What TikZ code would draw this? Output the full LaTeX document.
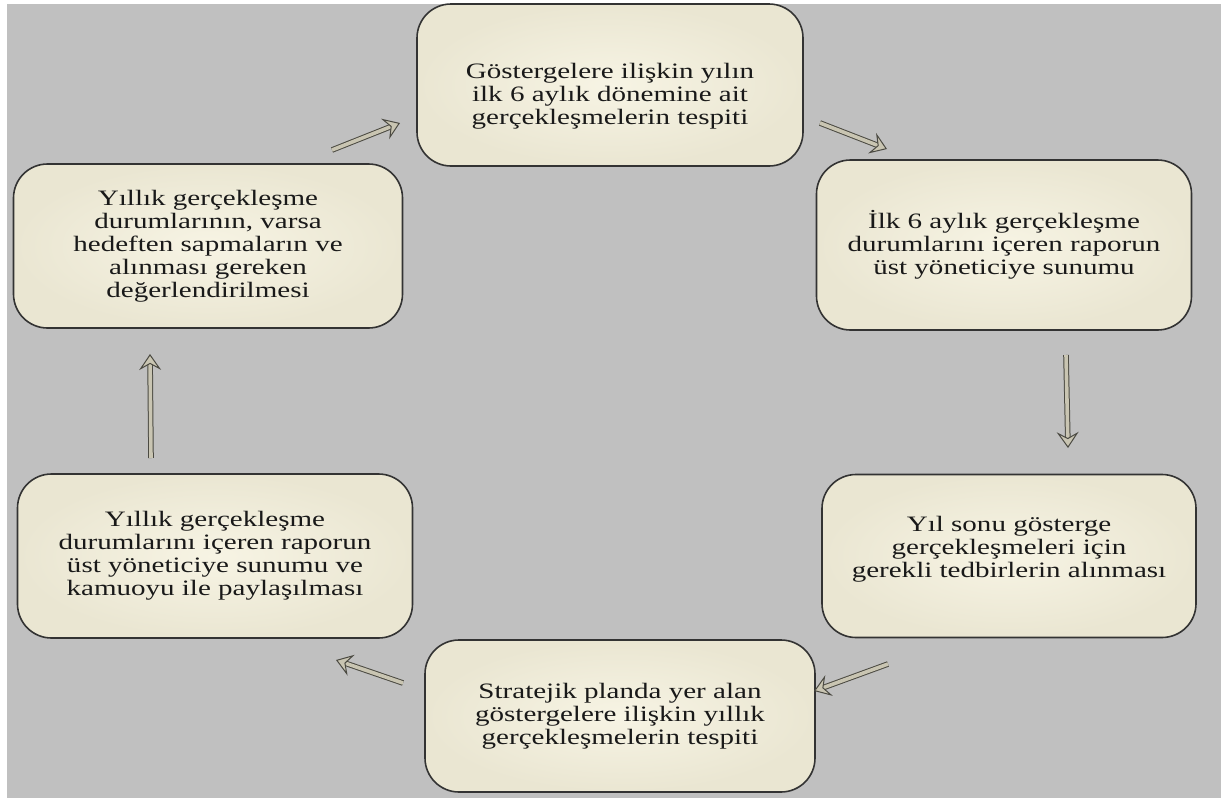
\documentclass[tikz,border=0pt]{standalone}
\usepackage{fontspec}
\setmainfont{Liberation Serif}[FakeStretch=1.32]
\usetikzlibrary{arrows.meta}

\definecolor{panelgray}{HTML}{C0C0C0}
\definecolor{boxfill}{HTML}{F7F4E4}
\definecolor{boxedge}{HTML}{EAE6D2}
\definecolor{arrowfill}{HTML}{C9C5B2}
\definecolor{arrowline}{HTML}{4B4A42}

\tikzset{
    stagetext/.style={align=center, text=black!90, font=\fontsize{22}{23}\selectfont},
    stage/.style={draw=black!80, line width=1.6pt, rounded corners=34pt,
        inner color=boxfill, outer color=boxedge, inner sep=0pt, stagetext},
    flow/.style={draw=arrowline, line width=1pt, double=arrowfill,
        double distance=3.6pt,
        -{Stealth[length=16pt, width=22pt, inset=6pt, fill=arrowfill, line width=1pt]}}
}

\begin{document}
\begin{tikzpicture}[x=1pt, y=-1pt]
        \useasboundingbox (0,0) rectangle (1221,798);
        \fill[panelgray] (7,4) rectangle (1221,798);

        \node[stage, minimum width=386pt, minimum height=162pt,
            label={[stagetext, yshift=-11pt]center:{Göstergelere ilişkin yılın\\ilk 6 aylık dönemine ait\\gerçekleşmelerin tespiti}}]
            (gtop) at (610,85) {};
        \node[stage, minimum width=375pt, minimum height=170pt] (rtop) at (1004,245)
            {İlk 6 aylık gerçekleşme\\durumlarını içeren raporun\\üst yöneticiye sunumu};
        \node[stage, minimum width=374pt, minimum height=163pt,
            label={[stagetext, yshift=7pt]center:{Yıl sonu gösterge\\gerçekleşmeleri için\\gerekli tedbirlerin alınması}}]
            (rbot) at (1009,556) {};
        \node[stage, minimum width=390pt, minimum height=152pt] (bot) at (620,716)
            {Stratejik planda yer alan\\göstergelere ilişkin yıllık\\gerçekleşmelerin tespiti};
        \node[stage, minimum width=395pt, minimum height=164pt] (lbot) at (215,556)
            {Yıllık gerçekleşme\\durumlarını içeren raporun\\üst yöneticiye sunumu ve\\kamuoyu ile paylaşılması};
        \node[stage, minimum width=389pt, minimum height=164pt] (ltop) at (208,246)
            {Yıllık gerçekleşme\\durumlarının, varsa\\hedeften sapmaların ve\\alınması gereken\\değerlendirilmesi};

        % arrow ends
        \coordinate (a1s) at (332,150);  \coordinate (a1e) at (400,123);
        \coordinate (a2s) at (820,123);  \coordinate (a2e) at (887,149);
        \coordinate (a3s) at (1066,355); \coordinate (a3e) at (1068,448);
        \coordinate (a4s) at (888,664);  \coordinate (a4e) at (814,691);
        \coordinate (a5s) at (403,683);  \coordinate (a5e) at (336,660);
        \coordinate (a6s) at (151,458);  \coordinate (a6e) at (150,354);

        \draw[flow] (a1s) -- (a1e);
        \draw[flow] (a2s) -- (a2e);
        \draw[flow] (a3s) -- (a3e);
        \draw[flow] (a4s) -- (a4e);
        \draw[flow] (a5s) -- (a5e);
        \draw[flow] (a6s) -- (a6e);
\end{tikzpicture}
\end{document}
